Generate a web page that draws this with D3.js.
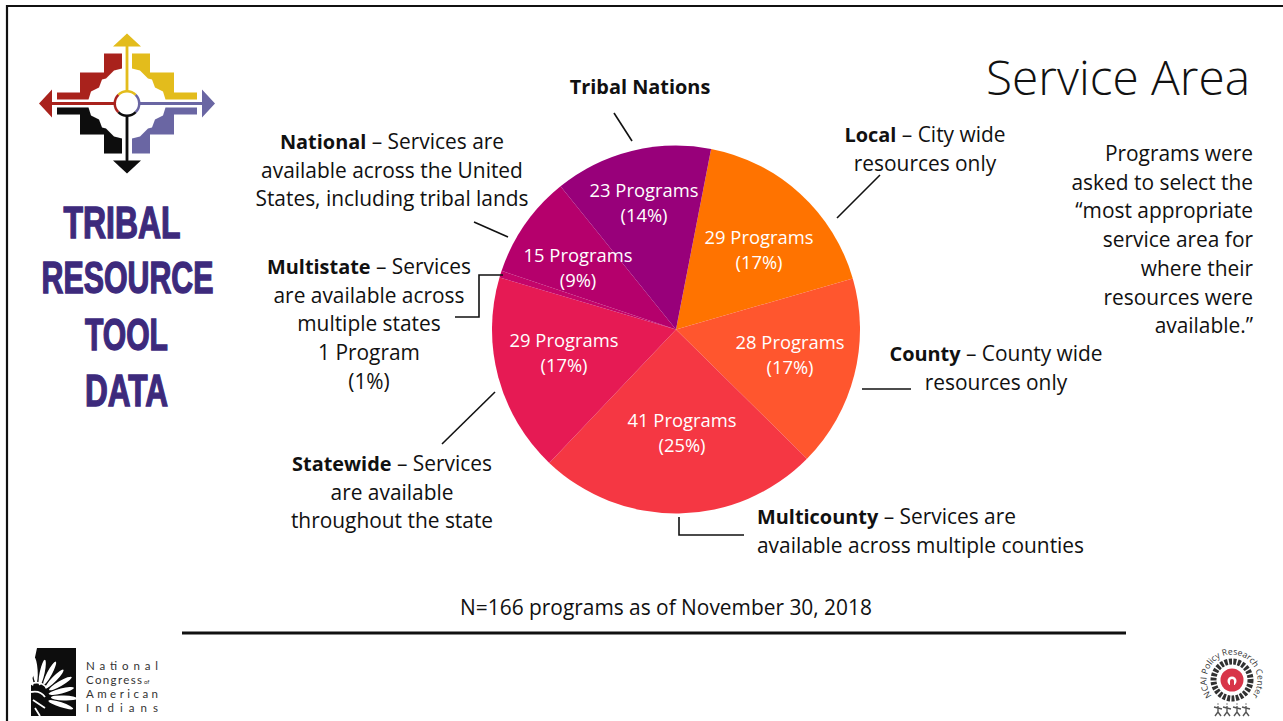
<!DOCTYPE html>
<html><head><meta charset="utf-8">
<script src="https://cdn.jsdelivr.net/npm/d3@7/dist/d3.min.js"></script>
<style>
html,body{margin:0;padding:0;background:#fff;overflow:hidden}
svg{display:block}
text{font-family:"Open Sans",sans-serif;fill:#111}
</style></head><body><svg id="c" width="1283" height="721"></svg>
<script>
// ---- data ----
const categories = ["Local","County","Multicounty","Statewide","Multistate","National","Tribal Nations"];
const programCounts = [29,28,41,29,1,15,23];
const percentLabels = ["17%","17%","25%","17%","1%","9%","14%"];
const sliceColors = ["#FF7300","#FF562E","#F53743","#E61A54","#C4056A","#B5006C","#98007A"];
const noteLines = ["Programs were","asked to select the","“most appropriate","service area for","where their","resources were","available.”"];
const logoWords = ["TRIBAL","RESOURCE","TOOL","DATA"];
const footnote = "N=166 programs as of November 30, 2018";

// ---- layout ----
const svg = d3.select("#c");
const cx = 676, cy = 329.5, R = 184, startDeg = 11;
const bodySize = 20.9, boldSize = 19.9, labelSize = 18.4, lineGap = 28.7;
// label centre offsets from the pie centre, per category (Multistate has none inside the pie)
const labelOffset = {"Local":[83,-80],"County":[114,25],"Multicounty":[6,103],"Statewide":[-112,23],"National":[-98,-62],"Tribal Nations":[-32,-127]};

const defs = svg.append("defs");
defs.append("filter").attr("id","soft").append("feGaussianBlur").attr("stdDeviation",0.45);

// frame
svg.append("path").attr("d","M7,721V6H1283").attr("fill","none").attr("stroke","#111").attr("stroke-width",2.2);

// pie
const pie = d3.pie().sort(null).startAngle(startDeg*Math.PI/180).endAngle((startDeg+360)*Math.PI/180);
const arc = d3.arc().innerRadius(0).outerRadius(R);
const g = svg.append("g").attr("transform",`translate(${cx},${cy})`);
const arcs = pie(programCounts);
g.selectAll("path").data(arcs).join("path").attr("d",arc).attr("fill",(d,i)=>sliceColors[i]);
categories.forEach((c,i)=>{
  const o = labelOffset[c]; if(!o) return;
  const n = programCounts[i];
  const t = g.append("text").attr("text-anchor","middle").attr("font-size",labelSize).style("fill","#fff");
  t.append("tspan").attr("x",o[0]).attr("y",o[1]-6).text(`${n} Program${n===1?"":"s"}`);
  t.append("tspan").attr("x",o[0]).attr("y",o[1]+19.5).text(`(${percentLabels[i]})`);
});

// annotated text blocks: each line is [boldPart, normalPart]
function block(x,y,anchor,lines,size,gap){
  lines.forEach((l,i)=>{
    const t = svg.append("text").attr("x",x).attr("y",y+i*(gap||lineGap)).attr("text-anchor",anchor).attr("font-size",size||bodySize);
    if(l[0]) t.append("tspan").attr("font-weight",700).attr("font-size",boldSize).text(l[0]);
    if(l[1]) t.append("tspan").text(l[1]);
  });
}
block(640,94,"middle",[["Tribal Nations",""]]);
block(392,149,"middle",[["National"," – Services are"],["","available across the United"],["","States, including tribal lands"]]);
block(369,274,"middle",[["Multistate"," – Services"],["","are available across"],["","multiple states"],["",`${programCounts[4]} Program`],["",`(${percentLabels[4]})`]]);
block(392,471,"middle",[["Statewide"," – Services"],["","are available"],["","throughout the state"]]);
block(925,142,"middle",[["Local"," – City wide"],["","resources only"]]);
block(996,361,"middle",[["County"," – County wide"],["","resources only"]]);
block(757,524,"start",[["Multicounty"," – Services are"],["","available across multiple counties"]]);
block(1253,161,"end",noteLines.map(s=>["",s]));
block(666,615,"middle",[["",footnote]]);

// leader lines
const leaders = ["M614,113L632,141","M474,222L508,237","M503,275H479V317H455","M442,444L495,392","M837,218L880,175","M862,389H911","M679,517V535H744"];
svg.selectAll("path.lead").data(leaders).join("path").attr("class","lead").attr("d",d=>d).attr("fill","none").attr("stroke","#111").attr("stroke-width",1.6);
svg.append("line").attr("x1",182).attr("x2",1126).attr("y1",633).attr("y2",633).attr("stroke","#111").attr("stroke-width",3);

// title
svg.append("text").attr("x",1250).attr("y",95).attr("text-anchor","end").attr("font-size",47.8).attr("font-weight",300).text("Service Area");

// ---- left logo ----
const logo = svg.append("g").attr("transform","translate(127,103.5)").attr("filter","url(#soft)");
const step = "M5,-50H23V-31H47V-11H70V-4H38.5L36,-12L28,-16L25,-24L21,-25L13,-33L5,-35Z";
[["#E3BC1B",1,1],["#A9231F",-1,1],["#0B0B0D",-1,-1],["#6A66A3",1,-1]].forEach(a=>{
  logo.append("path").attr("d",step).attr("fill",a[0]).attr("transform",`scale(${a[1]},${a[2]})`);
});
[["#E3BC1B",0,70],["#6A66A3",90,88],["#0B0B0D",180,70],["#A9231F",270,88]].forEach(a=>{
  const tip = a[2];
  logo.append("path").attr("d",`M0,${-tip}L14,${-tip+13}H1.4V-12H-1.4V${-tip+13}H-14Z`).attr("fill",a[0]).attr("transform",`rotate(${a[1]})`);
  logo.append("path").attr("d",d3.arc()({innerRadius:11,outerRadius:13.5,startAngle:(a[1]-45)*Math.PI/180,endAngle:(a[1]+45)*Math.PI/180})).attr("fill",a[0]);
});
const logoWidths = [117,172,83,83], logoBase = [238,293,350,406], logoCentres = [122,127.5,126.5,126.5];
logoWords.forEach((w,i)=>{
  svg.append("text").attr("x",logoCentres[i]).attr("y",logoBase[i]).attr("text-anchor","middle")
    .attr("font-size",43.5).attr("font-weight",700).attr("textLength",logoWidths[i]).attr("lengthAdjust","spacingAndGlyphs")
    .style("font-family","'Liberation Sans Narrow','Liberation Sans',sans-serif").style("fill","#3D2A7C").style("stroke","#3D2A7C").style("stroke-width",1.4).text(w);
});

// ---- NCAI logo ----
defs.append("clipPath").attr("id","ncClip").append("rect").attr("x",31).attr("y",648).attr("width",45).attr("height",68);
const nc = svg.append("g");
const ncArt = nc.append("g").attr("clip-path","url(#ncClip)").attr("filter","url(#soft)");
ncArt.append("rect").attr("x",31).attr("y",648).attr("width",45).attr("height",68).attr("fill","#0a0a0a");
const fx=37, fy=697;
[-20,-4,12,28,44,60,76,92,108].forEach((a,i)=>{
  ncArt.append("ellipse").attr("cx",0).attr("cy",-25-(i%2)*2).attr("rx",2.5).attr("ry",13)
    .attr("transform",`translate(${fx},${fy}) rotate(${a})`).attr("fill","#fff");
});
ncArt.append("path").attr("d","M31,648H37L34,662L36,672L31,680Z").attr("fill","#fff");
ncArt.append("path").attr("d","M31,684Q40,680 47,688M31,692Q40,690 45,697M33,700L45,708M35,708L40,716").attr("fill","none").attr("stroke","#fff").attr("stroke-width",1.8);
[["National",670,72],["Congress",684,56],["American",698,72],["Indians",712,72]].forEach(a=>{
  nc.append("text").attr("x",86).attr("y",a[1]).attr("font-size",11.5).attr("textLength",a[2]).style("font-family","Lato,sans-serif").style("fill","#333").text(a[0]);
});
nc.append("text").attr("x",144).attr("y",684).attr("font-size",6).style("font-family","Lato,sans-serif").style("fill","#333").text("of");

// ---- research center logo ----
const rc = svg.append("g").attr("transform","translate(1232,680)");
const rcArt = rc.append("g").attr("filter","url(#soft)");
rcArt.append("circle").attr("r",18.5).attr("fill","none").attr("stroke","#333").attr("stroke-width",6).attr("stroke-dasharray","3 1.4");
rcArt.append("circle").attr("r",11.5).attr("fill","#D8354A");
rcArt.append("circle").attr("r",4.5).attr("cy",1).attr("fill","#fff");
rcArt.append("path").attr("d","M-2,6V1a2,2 0 0 1 4,0V6Z").attr("fill","#D8354A");
const rr = 25.5, ra = 0.74*Math.PI;
defs.append("path").attr("id","ringPath").attr("d",`M${rr*Math.sin(-ra)},${-rr*Math.cos(-ra)}A${rr},${rr} 0 1 1 ${rr*Math.sin(ra)},${-rr*Math.cos(ra)}`);
rc.append("text").attr("font-size",8.6).style("fill","#333").append("textPath").attr("href","#ringPath").attr("startOffset","50%").attr("text-anchor","middle").text("NCAI Policy Research Center");
[-14,-5,5,14].forEach(x=>{
  rcArt.append("path").attr("transform",`translate(${x},30)`).attr("d","M0,-4V2M-4,-3L4,-1M0,2L-3,6M0,2L3,6M0,-6.5V-5.5").attr("fill","none").attr("stroke","#555").attr("stroke-width",1.4);
});
</script></body></html>
